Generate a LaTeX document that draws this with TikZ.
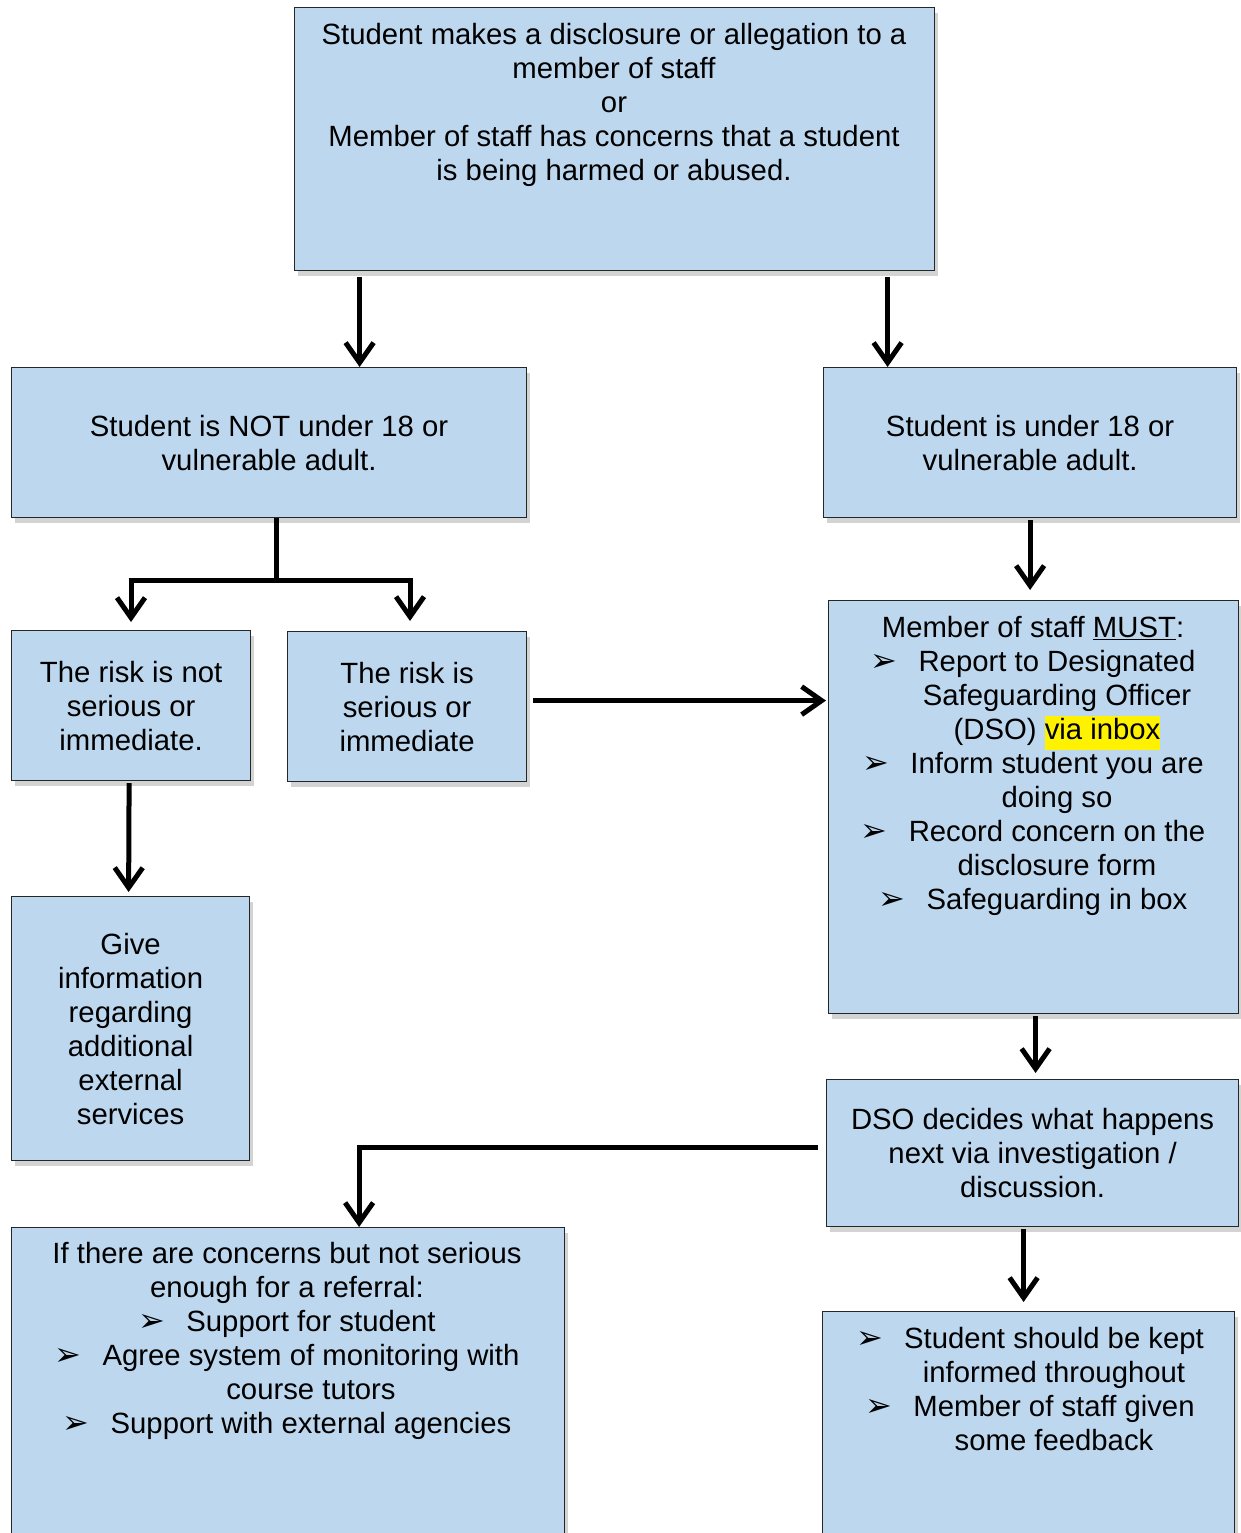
\documentclass[tikz,border=0pt]{standalone}
\usepackage{fontspec}
\setmainfont{Liberation Sans}
\newfontfamily\symfont{DejaVu Sans}
\usetikzlibrary{arrows.meta,positioning,shadows}
\definecolor{boxblue}{HTML}{BDD7EE}
\newcommand\bul{\makebox[48pt][l]{\symfont\fontsize{32pt}{32pt}\selectfont ➢}}
\newcommand\ind{\hspace*{48pt}}
\newcommand\hlt[1]{{\setlength\fboxsep{0pt}\colorbox{yellow}{\strut #1}}}

\begin{document}
\begin{tikzpicture}[x=1pt, y=-1pt,
  box/.style={draw=black!85, line width=1.2pt, fill=boxblue, inner sep=0pt, anchor=north west,
              drop shadow={shadow xshift=3pt, shadow yshift=-5pt, opacity=0.35}},
  txt/.style={align=center, font=\fontsize{29.3pt}{34pt}\selectfont},
  arr/.style={line width=5pt, -{Straight Barb[length=20pt,width=28pt]}}]
  \useasboundingbox (0,0) rectangle (1240,1533);
  % Boxes
  \node[box, minimum width=640pt, minimum height=263pt] (top) at (294,7) {};
  \node[box, txt, minimum width=515pt, minimum height=150pt] (notadult) at (11,367)
    {Student is NOT under 18 or\\vulnerable adult.};
  \node[box, txt, minimum width=413pt, minimum height=150pt] (under18) at (823,367)
    {Student is under 18 or\\vulnerable adult.};
  \node[box, txt, minimum width=239pt, minimum height=150pt] (notser) at (11,630)
    {The risk is not\\serious or\\immediate.};
  \node[box, txt, minimum width=239pt, minimum height=150pt] (serious) at (287,631)
    {The risk is\\serious or\\immediate};
  \node[box, minimum width=410pt, minimum height=413pt] (must) at (828,600) {};
  \node[box, txt, minimum width=238pt, minimum height=264pt] (give) at (11,896)
    {Give\\information\\regarding\\additional\\external\\services};
  \node[box, txt, minimum width=412pt, minimum height=147pt] (dso) at (826,1079)
    {DSO decides what happens\\next via investigation /\\discussion.};
  \node[box, minimum width=553pt, minimum height=340pt] (concern) at (11,1227) {};
  \node[box, minimum width=412pt, minimum height=260pt] (kept) at (822,1311) {};
  % Texts
  \node[txt] (topT) at (614,105) {Student makes a disclosure or allegation to a\\member of staff\\or\\
    Member of staff has concerns that a student\\is being harmed or abused.};
  \node[txt] (mustT) at (1033,766) {Member of staff \underline{MUST}:\\
    \bul Report to Designated\\\ind Safeguarding Officer\\\ind (DSO) \hlt{via inbox}\\
    \bul Inform student you are\\\ind doing so\\
    \bul Record concern on the\\\ind disclosure form\\
    \bul Safeguarding in box};
  \node[txt] (concernT) at (287,1341) {If there are concerns but not serious\\enough for a referral:\\
    \bul Support for student\\\bul Agree system of monitoring with\\\ind course tutors\\
    \bul Support with external agencies};
  \node[txt] (keptT) at (1030,1389) {\bul Student should be kept\\\ind informed throughout\\
    \bul Member of staff given\\\ind some feedback};
  % Connectors
  \draw[arr] ([xshift=-255pt,yshift=-6pt]top.south) -- ([xshift=-255pt]top.south |- notadult.north);
  \draw[arr] ([xshift=273pt,yshift=-6pt]top.south) -- ([xshift=273pt]top.south |- under18.north);
  \coordinate (split) at (276,580);
  \coordinate (sl) at (131,580);
  \coordinate (sr) at (410,580);
  \draw[line width=5pt] (notadult.south -| split) -- (split);
  \draw[line width=5pt] ([xshift=-2.5pt]sl) -- ([xshift=2.5pt]sr);
  \draw[arr, shorten >=8pt] (sl) -- (sl |- notser.north);
  \draw[arr, shorten >=10pt] (sr) -- (sr |- serious.north);
  \draw[arr, shorten >=10pt] ([yshift=-2pt]under18.south) -- (under18.south |- must.north);
  \draw[arr, shorten >=2pt] ([xshift=6pt,yshift=6pt]serious.east) -- ([yshift=6pt]serious.east -| must.west);
  \draw[arr, shorten >=4pt] ([xshift=-2pt,yshift=-2pt]notser.south) -- ([xshift=-2pt]give.north);
  \draw[arr, shorten >=6pt] ([xshift=2pt,yshift=-2pt]must.south) -- ([xshift=2pt]must.south |- dso.north);
  \draw[arr] ([xshift=-8pt,yshift=6pt]dso.west) -| ([xshift=71pt]concern.north);
  \draw[arr, shorten >=9pt] ([xshift=-9pt,yshift=-2pt]dso.south) -- ([xshift=-9pt]dso.south |- kept.north);
\end{tikzpicture}
\end{document}
